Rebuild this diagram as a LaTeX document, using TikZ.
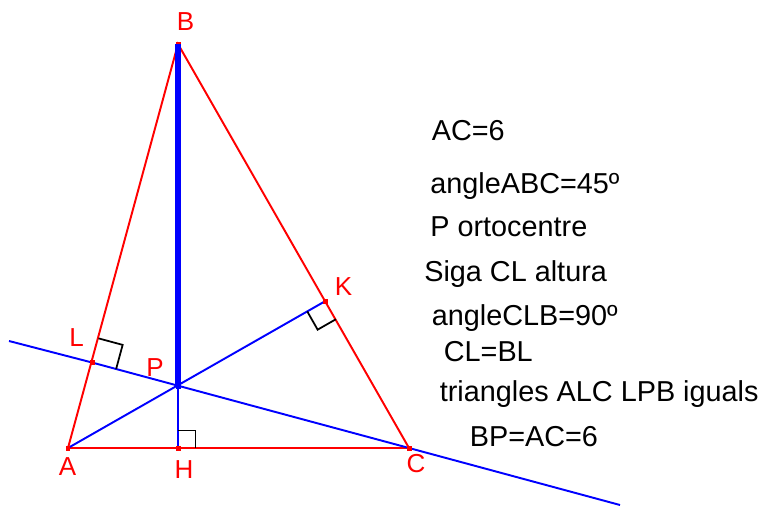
\documentclass[tikz,border=0pt]{standalone}
\usepackage{fontspec}
\setmainfont{Liberation Sans}
\definecolor{ortoRed}{HTML}{FF0000}
\definecolor{ortoBlue}{HTML}{0000FF}
\usetikzlibrary{calc}
\newcommand{\AngleMark}[4]{%
	\draw[recte] ($(#1)!#4!(#2)$) -- ($(#1)!#4!(#2) + (#1)!#4!(#3) - (#1)$) -- ($(#1)!#4!(#3)$);}

\begin{document}
\begin{tikzpicture}[x=0.02cm, y=-0.02cm,
		costat/.style={draw=ortoRed, line width=1.1pt},
		altura/.style={draw=ortoBlue, line width=1.1pt},
		gruix/.style={draw=ortoBlue, line width=3.2pt},
		recte/.style={draw=black, line width=1pt},
		punt/.style={fill=ortoRed, minimum size=0.1cm, inner sep=0pt, rectangle},
		etiq/.style={text=ortoRed, font=\fontsize{14.8}{16}\selectfont, inner sep=0pt},
		nota/.style={anchor=base west, inner sep=0pt, font=\fontsize{16.4}{18}\selectfont}
	]
		\useasboundingbox (0,0) rectangle (765,507);
		\coordinate (A) at (68,448);
		\coordinate (H) at (178,448);
		\coordinate (C) at (409,448);
		\coordinate (B) at (178,44);
		\coordinate (P) at (178,386.5);
		\coordinate (K) at (325.5,301);
		\coordinate (L) at (92,362.5);
		\coordinate (lend) at (9,341);
		\coordinate (rend) at (620,505);
		% triangle
		\draw[costat] (A) -- (B) -- (C) -- cycle;
		\node[punt] (pB) at (B) {};
		% altures
		\draw[altura] (lend) -- (L) -- (C) -- (rend);
		\draw[altura] (A) -- (K);
		\draw[altura] (P) -- (H);
		\draw[gruix] (B) -- (P);
		% angles rectes
		\AngleMark{L}{B}{C}{0.5cm}
		\AngleMark{H}{P}{C}{0.35cm}
		\AngleMark{K}{A}{C}{0.42cm}
		% punts
		\node[punt] (pA) at (A) {};
		\node[punt] (pH) at (H) {};
		\node[punt] (pC) at (C) {};
		\node[punt] (pL) at (L) {};
		\node[punt] (pK) at (K) {};
		\node[punt, fill=ortoBlue] (pP) at (P) {};
		% etiquetes
		\node[etiq] (lB) at (185.5,21.5) {B};
		\node[etiq] (lA) at (67.5,467) {A};
		\node[etiq] (lH) at (184,470) {H};
		\node[etiq] (lC) at (416,464) {C};
		\node[etiq] (lL) at (76.5,338) {L};
		\node[etiq] (lP) at (155,368) {P};
		\node[etiq] (lK) at (343.5,287) {K};
		% dades
		\node[nota] (d1) at (431.5,140) {AC=6};
		\node[nota] (d2) at (430,193.5) {angleABC=45º};
		\node[nota] (d3) at (430,236.5) {P ortocentre};
		\node[nota] (d4) at (424,281.5) {Siga CL altura};
		\node[nota] (d5) at (431.5,325) {angleCLB=90º};
		\node[nota] (d6) at (443.5,361.5) {CL=BL};
		\node[nota] (d7) at (439.5,401.5) {triangles ALC LPB iguals};
		\node[nota] (d8) at (469.5,446.5) {BP=AC=6};
	\end{tikzpicture}
\end{document}
